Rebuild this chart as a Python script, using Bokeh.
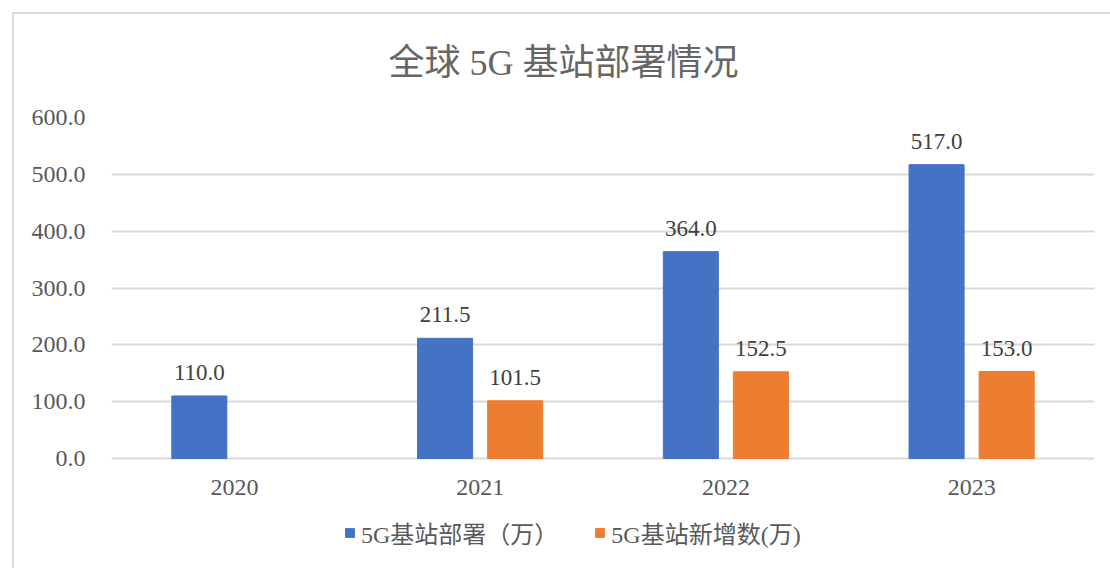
from bokeh.plotting import figure
from bokeh.models import (ColumnDataSource, FactorRange, Range1d, NumeralTickFormatter,
                          FixedTicker, Legend, LegendItem)
from bokeh.transform import dodge
from bokeh.embed import file_html
from bokeh.resources import INLINE

# ---- data ----
years = ["2020", "2021", "2022", "2023"]
deployed = [110.0, 211.5, 364.0, 517.0]          # 5G基站部署（万）
added = [None, 101.5, 152.5, 153.0]               # 5G基站新增数(万)
series_names = ["5G基站部署（万）", "5G基站新增数(万)"]
title_text = "全球 5G 基站部署情况"
y_ticks = [0, 100, 200, 300, 400, 500, 600]

BLUE = "#4472C4"
ORANGE = "#ED7D31"
FONT_MIX = "'Liberation Serif', 'Noto Sans CJK SC'"

src_a = ColumnDataSource(dict(year=years, val=deployed,
                              lab=["%.1f" % v for v in deployed]))
yr_b = [y for y, v in zip(years, added) if v is not None]
val_b = [v for v in added if v is not None]
src_b = ColumnDataSource(dict(year=yr_b, val=val_b, lab=["%.1f" % v for v in val_b]))
src_years = ColumnDataSource(dict(year=years))

# layout (pixels)
W, H = 1104, 566
TOP, LEFT, RIGHT, BOTTOM = 117, 111, 10, 2
VALUE_PX = 341.0          # pixels from 0 to 600 on the value axis
frame_h = H - TOP - BOTTOM
y_max = max(y_ticks)
y_min = y_max - frame_h * y_max / VALUE_PX   # extra room below 0 for labels + legend

xr = FactorRange(*years)
xr.range_padding = 0

p = figure(x_range=xr, y_range=Range1d(y_min, y_max), width=W, height=H,
           output_backend="svg", toolbar_location=None, x_axis_location=None,
           min_border_left=LEFT, min_border_right=RIGHT,
           min_border_top=TOP, min_border_bottom=BOTTOM)

off = 0.1426
bw = 0.224
ra = p.vbar(x=dodge("year", -off, range=p.x_range), top="val", bottom=0, width=bw,
            source=src_a, fill_color=BLUE, line_color=BLUE)
rb = p.vbar(x=dodge("year", off, range=p.x_range), top="val", bottom=0, width=bw,
            source=src_b, fill_color=ORANGE, line_color=ORANGE)

for src, d in ((src_a, -off), (src_b, off)):
    p.text(x=dodge("year", d, range=p.x_range), y="val", text="lab", source=src,
           text_align="center", text_baseline="bottom", y_offset=-16,
           text_font="Liberation Serif", text_font_size="23px", text_color="#404040")

# category labels under the zero line
p.text(x="year", y=0, text="year", source=src_years, text_align="center",
       text_baseline="middle", y_offset=29, text_font="Liberation Serif",
       text_font_size="24px", text_color="#595959")

# title
p.title.text = title_text
p.title.align = "left"
p.title.offset = 277
p.title.standoff = 70
p.title.text_font = FONT_MIX
p.title.text_font_size = "36px"
p.title.text_font_style = "normal"
p.title.text_color = "#666666"

# value axis
p.yaxis.ticker = FixedTicker(ticks=y_ticks)
p.yaxis.formatter = NumeralTickFormatter(format="0.0")
p.yaxis.axis_line_color = None
p.yaxis.major_tick_line_color = None
p.yaxis.minor_tick_line_color = None
p.yaxis.major_label_text_font = "Liberation Serif"
p.yaxis.major_label_text_font_size = "24px"
p.yaxis.major_label_text_color = "#595959"
p.yaxis.major_label_standoff = 20

p.xgrid.grid_line_color = None
p.ygrid.grid_line_color = "#d9d9d9"
p.ygrid.grid_line_width = 2
p.outline_line_color = None

legend = Legend(items=[LegendItem(label=series_names[0], renderers=[ra]),
                       LegendItem(label=series_names[1], renderers=[rb])],
                orientation="horizontal", location=(233, 14),
                padding=0, margin=0, spacing=36,
                glyph_width=11, glyph_height=11, label_standoff=6, label_height=24,
                label_text_font=FONT_MIX, label_text_font_size="24px",
                label_text_color="#595959", border_line_color=None,
                background_fill_alpha=0)
p.add_layout(legend, "center")

# light chart-area frame (left and top edges visible in the reference), drawn on top
frame_css = ("<style>body::after{content:'';position:fixed;left:12px;top:12px;"
             "right:-20px;bottom:-20px;border-left:2px solid #d9d9d9;"
             "border-top:2px solid #d9d9d9;pointer-events:none;z-index:1000;}</style></head>")
html = file_html(p, INLINE).replace("</head>", frame_css, 1)
open("out.html", "w").write(html)
